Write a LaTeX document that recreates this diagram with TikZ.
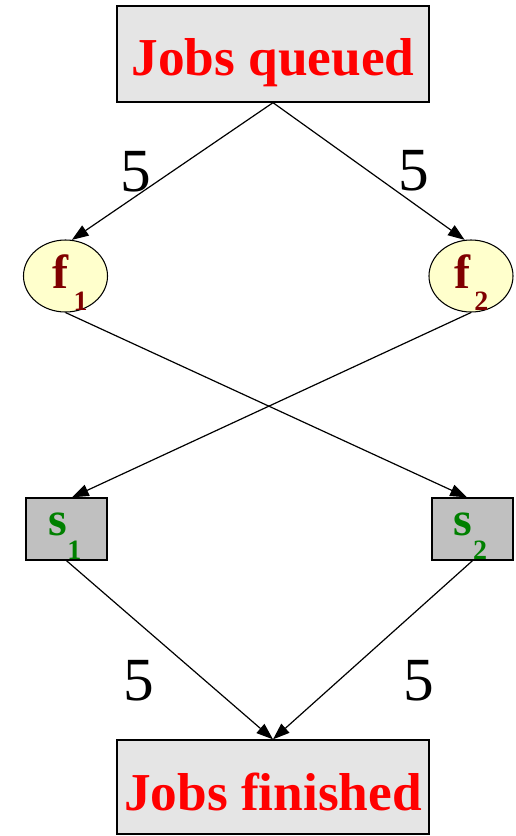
\documentclass[tikz,border=0pt]{standalone}
\usepackage{fontspec}
\setmainfont{Liberation Serif}
\newfontfamily\countfont{Liberation Serif}
\usetikzlibrary{arrows.meta,shapes.geometric}

\definecolor{boxgray}{RGB}{229,229,229}
\definecolor{servgray}{RGB}{192,192,192}
\definecolor{farmyellow}{RGB}{255,255,204}
\definecolor{farmred}{RGB}{128,0,0}
\definecolor{servgreen}{RGB}{0,128,0}

% letter with a lowered index: #1 letter, #2 kern, #3 drop, #4 index
\newcommand\lowidx[4]{#1\kern#2\raisebox{-#3}{\fontsize{21}{21}\selectfont #4}}

\tikzset{
  endbox/.style={draw, line width=1pt, fill=boxgray, minimum width=234pt,
    inner sep=0pt, text=red, text depth=0pt,
    font=\bfseries\fontsize{40}{40}\selectfont},
  farm/.style={ellipse, draw, line width=0.8pt, fill=farmyellow,
    minimum width=63pt, minimum height=54pt, inner sep=0pt},
  serv/.style={rectangle, draw, line width=1pt, fill=servgray,
    minimum width=60.75pt, minimum height=46.5pt, inner sep=0pt},
  farmtext/.style={anchor=base west, inner sep=0pt, text=farmred,
    font=\bfseries\fontsize{36}{36}\selectfont},
  servtext/.style={anchor=base west, inner sep=0pt, text=servgreen,
    font=\bfseries\fontsize{36}{36}\selectfont},
  count/.style={inner sep=0pt, font=\countfont\mdseries\upshape\fontsize{46}{46}\selectfont},
  flow/.style={-{Triangle[length=12.5pt,width=9pt]}, line width=0.9pt},
}

\begin{document}
\begin{tikzpicture}[x=0.75pt, y=-0.75pt]
  \useasboundingbox (0,0) rectangle (516,836);

  % boxes and shapes
  \node[endbox, minimum height=72pt, text height=31.5pt] (queued) at (273,54) {Jobs queued};
  \node[endbox, minimum height=70.5pt, text height=34.5pt] (finished) at (273,787) {Jobs finished};
  \node[farm] (f1) at (65.5,276) {};
  \node[farm] (f2) at (471,276) {};
  \node[serv] (s1) at (66.5,529) {};
  \node[serv] (s2) at (472.5,529) {};

  % connectors
  \draw[flow] (queued.south) -- (f1.80);
  \draw[flow] (queued.south) -- (f2.100);
  \draw[flow] (f1.south) -- (s2.100);
  \draw[flow] (f2.south) -- (s1.80);
  \draw[flow] (s1.south) -- (finished.north);
  \draw[flow] (s2.south) -- (finished.north);

  % labels inside the shapes
  \node[farmtext] (f1t) at (52,288.5) {\lowidx{f}{4pt}{16.5pt}{1}};
  \node[farmtext] (f2t) at (454,288.5) {\lowidx{f}{3pt}{16.5pt}{2}};
  \node[servtext] (s1t) at (48.5,535) {\lowidx{s}{0pt}{18.5pt}{1}};
  \node[servtext] (s2t) at (453.5,535.5) {\lowidx{s}{0.5pt}{18pt}{2}};

  % counts on the connectors
  \node[count] (c1) at (136,172) {5};
  \node[count] (c2) at (414,171) {5};
  \node[count] (c3) at (139,681) {5};
  \node[count] (c4) at (419,681) {5};
\end{tikzpicture}
\end{document}
